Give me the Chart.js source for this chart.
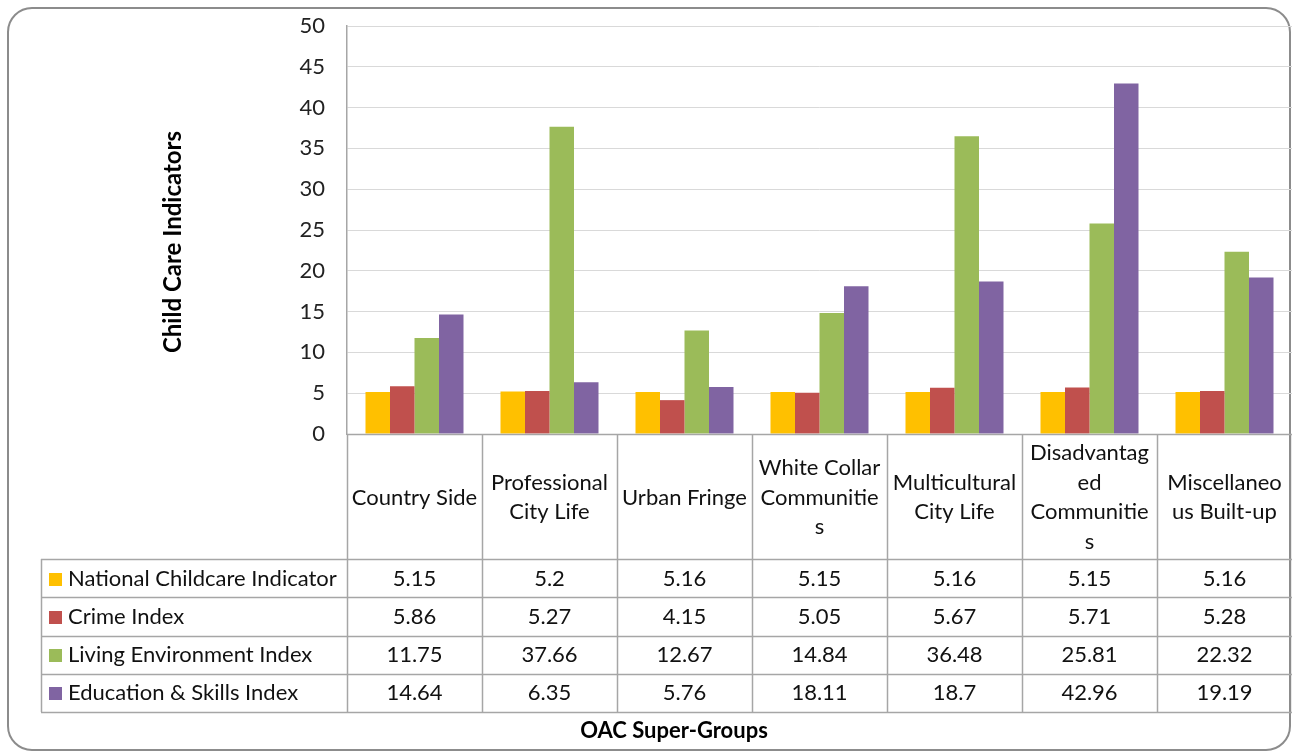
<!DOCTYPE html>
<html>
<head>
<meta charset="utf-8">
<script src="https://cdn.jsdelivr.net/npm/chart.js@4/dist/chart.umd.min.js"></script>
<style>
  html, body { margin: 0; padding: 0; background: #ffffff; }
  #c { display: block; }
</style>
</head>
<body>
<canvas id="c" width="1292" height="753"></canvas>
<script>
// ---- Data ----
const categories = [
  ["Country Side"],
  ["Professional", "City Life"],
  ["Urban Fringe"],
  ["White Collar", "Communitie", "s"],
  ["Multicultural", "City Life"],
  ["Disadvantag", "ed", "Communitie", "s"],
  ["Miscellaneo", "us Built-up"]
];
const seriesNames = [
  "National Childcare Indicator",
  "Crime Index",
  "Living Environment Index",
  "Education & Skills Index"
];
const nationalChildcare = [5.15, 5.2, 5.16, 5.15, 5.16, 5.15, 5.16];
const crimeIndex = [5.86, 5.27, 4.15, 5.05, 5.67, 5.71, 5.28];
const livingEnvironment = [11.75, 37.66, 12.67, 14.84, 36.48, 25.81, 22.32];
const educationSkills = [14.64, 6.35, 5.76, 18.11, 18.7, 42.96, 19.19];
const yMin = 0, yMax = 50, yStep = 5;
const yTitle = "Child Care Indicators";
const xTitle = "OAC Super-Groups";

// ---- Styles ----
const colors = ["#FFC000", "#C0504D", "#9BBB59", "#8064A2"];
const FONT = "Lato, 'Open Sans', sans-serif";
const TEXT = "#111111";
const LINE = "#a6a6a6";

const seriesData = [nationalChildcare, crimeIndex, livingEnvironment, educationSkills];

const frame = {
  id: "frame",
  beforeDraw(chart) {
    const ctx = chart.ctx;
    ctx.save();
    ctx.fillStyle = "#ffffff";
    ctx.fillRect(0, 0, chart.width, chart.height);
    ctx.strokeStyle = "#8c8c8c";
    ctx.lineWidth = 2;
    ctx.beginPath();
    if (ctx.roundRect) ctx.roundRect(8, 8, 1282, 742, 24);
    else ctx.rect(8, 8, 1282, 742);
    ctx.stroke();
    ctx.restore();
  }
};

const dataTable = {
  id: "dataTable",
  afterDraw(chart) {
    const ctx = chart.ctx;
    const xs = chart.scales.x;
    const area = chart.chartArea;
    const n = categories.length;
    const cw = xs.getPixelForValue(1) - xs.getPixelForValue(0);
    const top = area.bottom;
    const headBottom = 559;
    const rowH = 38.25;
    const tableBottom = headBottom + rowH * seriesNames.length;
    const legLeft = 41;
    ctx.save();
    ctx.strokeStyle = LINE;
    ctx.lineWidth = 1.5;
    for (let i = 0; i <= n; i++) {
      const x = Math.round(xs.getPixelForValue(i) - cw / 2) + 0.5;
      ctx.beginPath();
      ctx.moveTo(x, top);
      ctx.lineTo(x, tableBottom);
      ctx.stroke();
    }
    ctx.beginPath();
    ctx.moveTo(legLeft + 0.5, headBottom);
    ctx.lineTo(legLeft + 0.5, tableBottom);
    ctx.stroke();
    ctx.beginPath();
    ctx.moveTo(area.left, top + 0.5);
    ctx.lineTo(chart.width, top + 0.5);
    ctx.stroke();
    for (let r = 0; r <= seriesNames.length; r++) {
      const y = Math.round(headBottom + r * rowH) + 0.5;
      ctx.beginPath();
      ctx.moveTo(legLeft, y);
      ctx.lineTo(chart.width, y);
      ctx.stroke();
    }
    ctx.fillStyle = TEXT;
    ctx.font = "22px " + FONT;
    ctx.textAlign = "center";
    ctx.textBaseline = "middle";
    const lh = 29.5;
    const hc = (top + headBottom) / 2 + 1;
    categories.forEach((lines, i) => {
      const x = xs.getPixelForValue(i);
      const y0 = hc - (lines.length - 1) * lh / 2;
      lines.forEach((t, k) => ctx.fillText(t, x, y0 + k * lh));
    });
    seriesNames.forEach((name, r) => {
      const yc = headBottom + r * rowH + rowH / 2 + 0.5;
      ctx.fillStyle = colors[r];
      ctx.fillRect(49, Math.round(yc - 6), 13, 13);
      ctx.fillStyle = TEXT;
      ctx.textAlign = "left";
      ctx.fillText(name, 68, yc);
      ctx.textAlign = "center";
      seriesData[r].forEach((v, i) => {
        ctx.fillText(String(v), xs.getPixelForValue(i), yc);
      });
    });
    ctx.font = "bold 22px " + FONT;
    ctx.fillStyle = "#000000";
    ctx.textAlign = "center";
    ctx.fillText(xTitle, 674, 731);
    ctx.font = "bold 24px " + FONT;
    ctx.translate(173, 242);
    ctx.rotate(-Math.PI / 2);
    ctx.fillText(yTitle, 0, 0);
    ctx.restore();
  }
};

new Chart(document.getElementById("c"), {
  type: "bar",
  data: {
    labels: categories,
    datasets: seriesNames.map((name, i) => ({
      label: name,
      data: seriesData[i],
      backgroundColor: colors[i],
      borderWidth: 0,
      categoryPercentage: 0.726,
      barPercentage: 1.0
    }))
  },
  options: {
    responsive: false,
    animation: false,
    devicePixelRatio: 1,
    layout: { padding: { left: 0, top: 26, right: 0, bottom: 319 } },
    plugins: { legend: { display: false }, tooltip: { enabled: false } },
    scales: {
      x: { display: false },
      y: {
        min: yMin,
        max: yMax,
        ticks: { stepSize: yStep, color: "#222222", padding: 22, font: { family: FONT, size: 22 } },
        grid: { color: "#d9d9d9", lineWidth: 1, drawTicks: false },
        border: { color: LINE, width: 1.5 },
        afterFit(scale) {
          scale.width = 347;
          scale.paddingTop = 0;
          scale.paddingBottom = 0;
        }
      }
    }
  },
  plugins: [frame, dataTable]
});
</script>
</body>
</html>
